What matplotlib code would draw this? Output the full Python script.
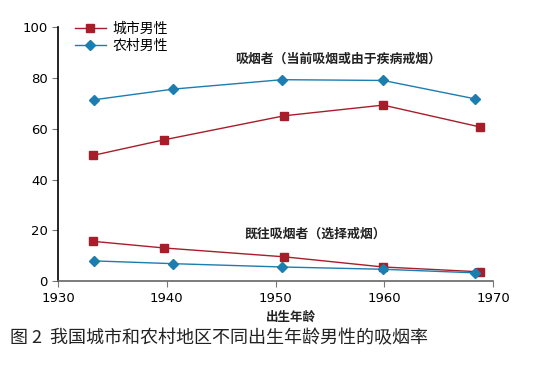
import matplotlib
matplotlib.use("Agg")
import matplotlib.pyplot as plt

plt.rcParams["font.family"] = ["Noto Sans CJK SC", "DejaVu Sans"]

# birth year of each cohort
urban_years = [1933.2, 1939.7, 1950.8, 1959.9, 1968.8]
rural_years = [1933.3, 1940.6, 1950.6, 1959.9, 1968.3]

# current smokers (%)
urban_current = [49.5, 55.6, 65.1, 69.3, 60.7]
rural_current = [71.4, 75.6, 79.3, 79.0, 71.8]

# former smokers (%)
urban_former = [15.7, 13.1, 9.6, 5.6, 3.7]
rural_former = [8.0, 6.9, 5.6, 4.7, 3.3]

x_ticks = [1930, 1940, 1950, 1960, 1970]
y_ticks = [0, 20, 40, 60, 80, 100]

RED = "#a51e2a"
BLUE = "#1b7db0"

fig = plt.figure(figsize=(5.33, 3.71), dpi=100)
ax = fig.add_axes([0.109, 0.242, 0.816, 0.685])

ax.plot(urban_years, urban_current, color=RED, lw=1.0, marker="s", ms=6,
        label="城市男性")
ax.plot(rural_years, rural_current, color=BLUE, lw=1.0, marker="D", ms=5.5,
        label="农村男性")
ax.plot(urban_years, urban_former, color=RED, lw=1.0, marker="s", ms=6)
ax.plot(rural_years, rural_former, color=BLUE, lw=1.0, marker="D", ms=5.5)

ax.set_xlim(1930, 1970)
ax.set_ylim(0, 100)
ax.set_xticks(x_ticks)
ax.set_yticks(y_ticks)
ax.tick_params(axis="both", labelsize=9.5, length=4, width=0.8, color="#777777")
for lab in ax.get_xticklabels() + ax.get_yticklabels():
    lab.set_family("DejaVu Sans")

for side in ("top", "right"):
    ax.spines[side].set_visible(False)
ax.spines["left"].set_color("black")
ax.spines["left"].set_linewidth(1.2)
ax.spines["bottom"].set_color("#666666")
ax.spines["bottom"].set_linewidth(1.2)

ax.text(1946.3, 87.5, "吸烟者（当前吸烟或由于疾病戒烟）", fontsize=9.3,
        fontweight="bold", color="#222222", ha="left", va="center")
ax.text(1947.1, 18.6, "既往吸烟者（选择戒烟）", fontsize=9.3,
        fontweight="bold", color="#222222", ha="left", va="center")

ax.legend(loc="upper left", bbox_to_anchor=(0.01, 1.07), frameon=False,
          fontsize=10, handlelength=2.2, handletextpad=0.5, labelspacing=0.25)

fig.text(0.545, 0.145, "出生年龄", fontsize=9, fontweight="bold",
         color="#222222", ha="center", va="center")
fig.text(0.018, 0.088, "图 2  我国城市和农村地区不同出生年龄男性的吸烟率",
         fontsize=13, color="#222222", ha="left", va="center")

fig.savefig("out.png", dpi=100)
